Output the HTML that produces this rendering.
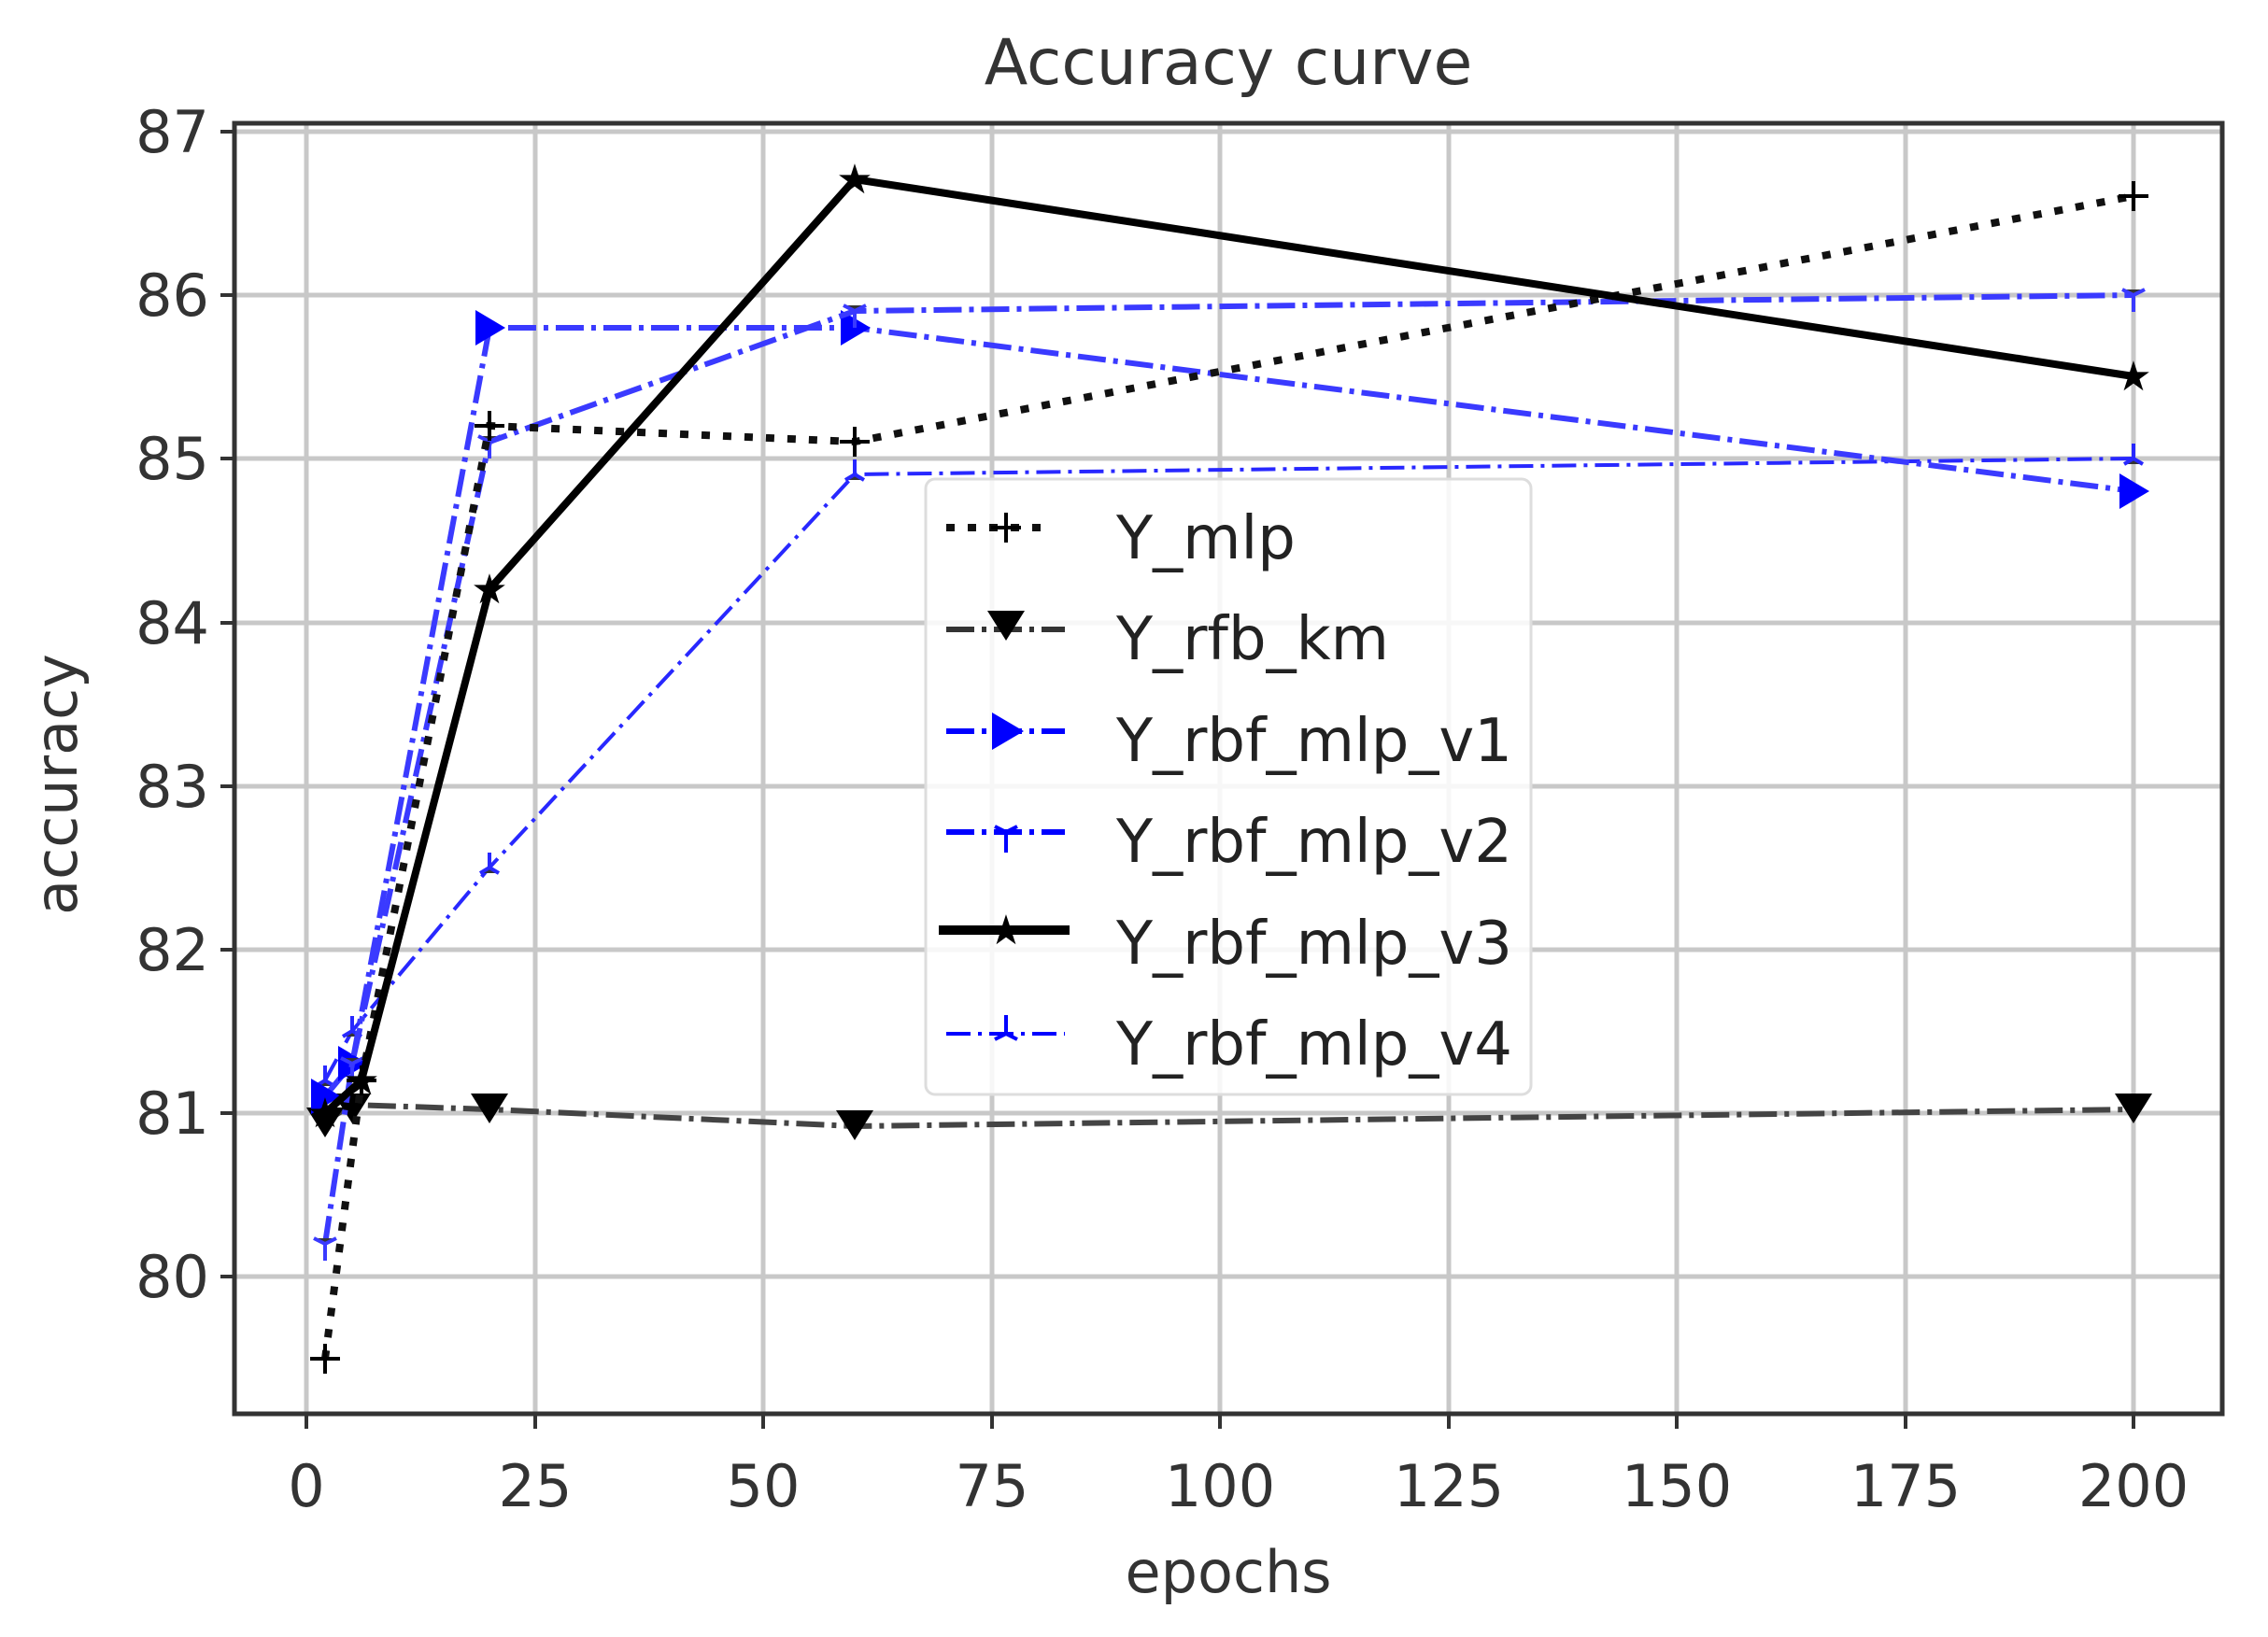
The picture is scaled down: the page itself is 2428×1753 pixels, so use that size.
<!DOCTYPE html>
<html><head><meta charset="utf-8"><style>html,body{margin:0;padding:0;background:#fff}svg{display:block}</style></head>
<body>
<svg width="2428" height="1753" viewBox="0 0 2428 1753" xmlns="http://www.w3.org/2000/svg" font-family="'DejaVu Sans','Liberation Sans',sans-serif" fill="#333">
<rect width="2428" height="1753" fill="#fff"/>
<g stroke="#c8c8c8" stroke-width="5">
<line x1="328" y1="132" x2="328" y2="1514"/><line x1="573" y1="132" x2="573" y2="1514"/><line x1="817" y1="132" x2="817" y2="1514"/><line x1="1062" y1="132" x2="1062" y2="1514"/><line x1="1306" y1="132" x2="1306" y2="1514"/><line x1="1551" y1="132" x2="1551" y2="1514"/><line x1="1795" y1="132" x2="1795" y2="1514"/><line x1="2040" y1="132" x2="2040" y2="1514"/><line x1="2284" y1="132" x2="2284" y2="1514"/>
<line x1="251" y1="141" x2="2379" y2="141"/><line x1="251" y1="316" x2="2379" y2="316"/><line x1="251" y1="491" x2="2379" y2="491"/><line x1="251" y1="667" x2="2379" y2="667"/><line x1="251" y1="842" x2="2379" y2="842"/><line x1="251" y1="1017" x2="2379" y2="1017"/><line x1="251" y1="1192" x2="2379" y2="1192"/><line x1="251" y1="1367" x2="2379" y2="1367"/>
</g>
<!-- rfb_km -->
<polyline fill="none" stroke="#444" stroke-width="6" stroke-dasharray="30,8,5,8" points="348,1201 377,1183 524,1188 915,1206 2284,1188"/>
<g fill="#000"><path d="M328,1186 h40 l-20,32z"/><path d="M357,1171 h40 l-20,32z"/><path d="M504,1171 h40 l-20,32z"/><path d="M895,1189 h40 l-20,32z"/><path d="M2264,1171 h40 l-20,32z"/></g>
<!-- v4 -->
<polyline fill="none" stroke="#2828ff" stroke-width="4" stroke-dasharray="26,8,4,8" points="348,1157 377,1104 524,929 915,508 2284,491"/>
<g stroke="#2828ff" stroke-width="4"><path d="M348,1157v-16M338,1163l10,-6l10,6M377,1104v-16M367,1110l10,-6l10,6M524,929v-16M514,935l10,-6l10,6M915,508v-16M905,514l10,-6l10,6M2284,491v-16M2274,497l10,-6l10,6"/></g>
<!-- v1 -->
<polyline fill="none" stroke="#3a3aff" stroke-width="6" stroke-dasharray="30,8,5,8" points="348,1174 377,1139 524,351 915,351 2284,526"/>
<g fill="#0000ff"><path d="M333,1155 v38 l32,-19z"/><path d="M362,1120 v38 l32,-19z"/><path d="M509,332 v38 l32,-19z"/><path d="M900,332 v38 l32,-19z"/><path d="M2269,507 v38 l32,-19z"/></g>
<!-- v2 -->
<polyline fill="none" stroke="#3a3aff" stroke-width="6" stroke-dasharray="30,8,5,8" points="348,1332 377,1139 524,473 915,333 2284,316"/>
<g stroke="#3a3aff" stroke-width="4"><path d="M348,1332v18M336,1326l12,6l12,-6M377,1139v18M365,1133l12,6l12,-6M524,473v18M512,467l12,6l12,-6M915,333v18M903,327l12,6l12,-6M2284,316v18M2272,310l12,6l12,-6"/></g>
<!-- mlp -->
<polyline fill="none" stroke="#111" stroke-width="8" stroke-dasharray="9,14" points="348,1455 387,1157 524,456 915,473 2284,210"/>
<g stroke="#000" stroke-width="4"><path d="M332,1455h32M348,1439v32M371,1157h32M387,1141v32M508,456h32M524,440v32M899,473h32M915,457v32M2268,210h32M2284,194v32"/></g>
<!-- v3 -->
<polyline fill="none" stroke="#000" stroke-width="8" points="348,1192 387,1157 524,631 915,192 2284,403"/>
<g fill="#000" font-size="44" text-anchor="middle"><text x="348" y="1207">★</text><text x="387" y="1172">★</text><text x="524" y="646">★</text><text x="915" y="207">★</text><text x="2284" y="418">★</text></g>
<!-- axes -->
<rect x="251" y="132" width="2128" height="1382" fill="none" stroke="#333" stroke-width="5"/>
<g stroke="#333" stroke-width="4">
<path d="M236,141h15M236,316h15M236,491h15M236,667h15M236,842h15M236,1017h15M236,1192h15M236,1367h15"/>
<path d="M328,1514v16M573,1514v16M817,1514v16M1062,1514v16M1306,1514v16M1551,1514v16M1795,1514v16M2040,1514v16M2284,1514v16"/>
</g>
<g font-size="62" text-anchor="end"><text x="224" y="163">87</text><text x="224" y="338">86</text><text x="224" y="513">85</text><text x="224" y="689">84</text><text x="224" y="864">83</text><text x="224" y="1039">82</text><text x="224" y="1214">81</text><text x="224" y="1389">80</text></g>
<g font-size="62" text-anchor="middle"><text x="328" y="1613">0</text><text x="573" y="1613">25</text><text x="817" y="1613">50</text><text x="1062" y="1613">75</text><text x="1306" y="1613">100</text><text x="1551" y="1613">125</text><text x="1795" y="1613">150</text><text x="2040" y="1613">175</text><text x="2284" y="1613">200</text></g>
<text x="1315" y="1705" font-size="62" text-anchor="middle">epochs</text>
<text x="1315" y="90" font-size="68" text-anchor="middle">Accuracy curve</text>
<text transform="translate(82,840) rotate(-90)" font-size="62" text-anchor="middle">accuracy</text>
<rect x="991" y="513" width="648" height="659" rx="10" fill="#fff" fill-opacity="0.85" stroke="#ddd" stroke-width="3"/>
<g font-size="64" fill="#222">
<text x="1195" y="598">Y_mlp</text><text x="1195" y="706">Y_rfb_km</text><text x="1195" y="815">Y_rbf_mlp_v1</text><text x="1195" y="923">Y_rbf_mlp_v2</text><text x="1195" y="1032">Y_rbf_mlp_v3</text><text x="1195" y="1140">Y_rbf_mlp_v4</text>
</g>
<line x1="1013" y1="565" x2="1125" y2="565" stroke="#111" stroke-width="8" stroke-dasharray="9,14"/>
<path d="M1061,565h32M1077,549v32" stroke="#000" stroke-width="4"/>
<line x1="1013" y1="674" x2="1140" y2="674" stroke="#333" stroke-width="6" stroke-dasharray="30,8,5,8"/>
<path d="M1057,654h40l-20,32z" fill="#000"/>
<line x1="1013" y1="783" x2="1140" y2="783" stroke="#0000ff" stroke-width="6" stroke-dasharray="30,8,5,8"/>
<path d="M1062,763v40l34,-20z" fill="#0000ff"/>
<line x1="1013" y1="891" x2="1140" y2="891" stroke="#0000ff" stroke-width="6" stroke-dasharray="30,8,5,8"/>
<path d="M1077,891v22M1065,885l12,6l12,-6" stroke="#0000ff" stroke-width="4" fill="none"/>
<line x1="1005" y1="996" x2="1145" y2="996" stroke="#000" stroke-width="10"/>
<text x="1077" y="1011" font-size="44" text-anchor="middle" fill="#000">★</text>
<line x1="1013" y1="1107" x2="1140" y2="1107" stroke="#0000ff" stroke-width="4" stroke-dasharray="26,8,4,8"/>
<path d="M1077,1107v-20M1065,1113l12,-6l12,6" stroke="#0000ff" stroke-width="4" fill="none"/>
</svg>
</body></html>
